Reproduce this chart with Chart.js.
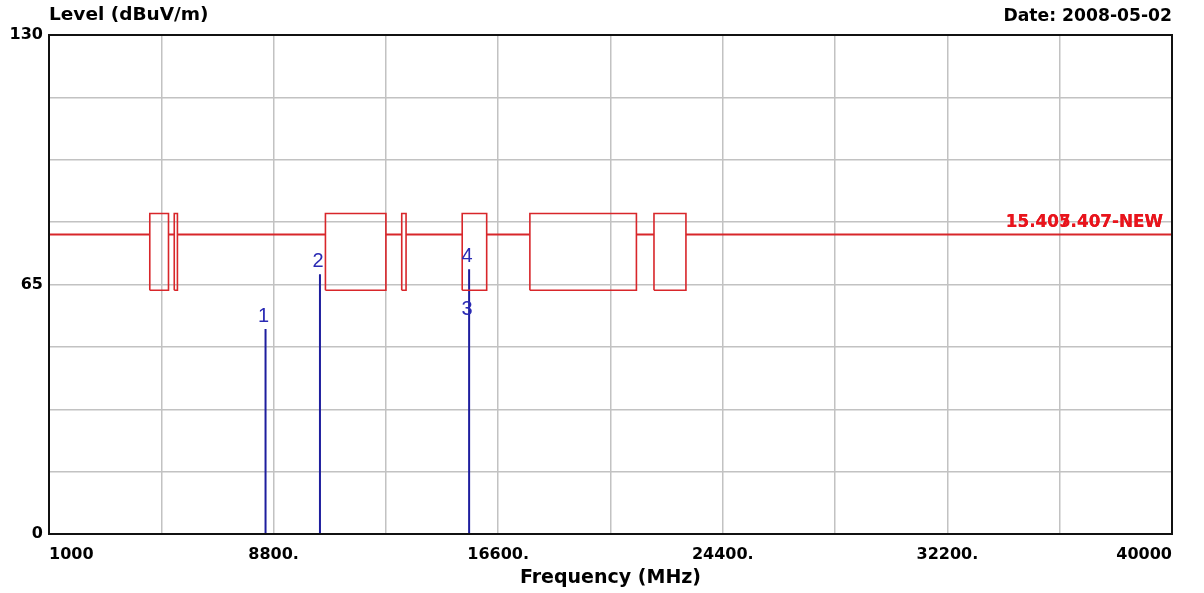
<!DOCTYPE html>
<html>
<head>
<meta charset="utf-8">
<script src="https://cdn.jsdelivr.net/npm/chart.js@4.4.1/dist/chart.umd.min.js"></script>
<style>
    html, body { margin: 0; padding: 0; background: #fff; }
    #wrap { width: 1204px; height: 593px; position: relative; }
</style>
</head>
<body>
<div id="wrap"><canvas id="levelChart"></canvas></div>
<script>
// Axis ticks (gridlines every 3900 MHz / 16.25 dB, labels on every other one)
const xTicks = [1000, 4900, 8800, 12700, 16600, 20500, 24400, 28300, 32200, 36100, 40000];
const xTickLabels = ['1000', '', '8800.', '', '16600.', '', '24400.', '', '32200.', '', '40000'];
const yTicks = [0, 16.25, 32.5, 48.75, 65, 81.25, 97.5, 113.75, 130];
const yTickLabels = ['0', '', '', '', '65', '', '', '', '130'];

// Limit line and restricted bands (MHz)
const limitLevel = 78;
const bandTop = 83.5;
const bandBottom = 63.5;
const bandStart = [4500, 5350, 10600, 13250, 15350, 17700, 22010];
const bandEnd = [5150, 5460, 12700, 13400, 16200, 21400, 23120];
const limitLabels = ['15.407.407-NEW', '15.405.407-NEW'];

// Measured markers
const markerFreq = [8520, 10410, 15590, 15590];
const markerLevel = [53.4, 67.7, 55.2, 69.0];
const markerNames = ['1', '2', '3', '4'];

const RED = '#d8262a';
const BLUE = '#1e1e9e';

// build limit segments between bands
const limitPts = [];
let from = xTicks[0];
bandStart.forEach((s, i) => {
    limitPts.push({ x: from, y: limitLevel }, { x: s, y: limitLevel }, { x: s, y: null });
    from = bandEnd[i];
});
limitPts.push({ x: from, y: limitLevel }, { x: xTicks[xTicks.length - 1], y: limitLevel });

// band rectangles
const bandPts = [];
bandStart.forEach((s, i) => {
    const e = bandEnd[i];
    bandPts.push(
        { x: s, y: bandBottom }, { x: s, y: bandTop }, { x: e, y: bandTop },
        { x: e, y: bandBottom }, { x: s, y: bandBottom }, { x: e, y: null }
    );
});

// marker sticks
const markerPts = [];
markerFreq.forEach((f, i) => {
    markerPts.push({ x: f, y: 0 }, { x: f, y: markerLevel[i] }, { x: f, y: null });
});

const overlay = {
    id: 'overlay',
    afterDatasetsDraw(chart) {
        const { ctx, chartArea: a, scales: { x, y } } = chart;
        ctx.save();
        // frame
        ctx.strokeStyle = '#111';
        ctx.lineWidth = 2;
        ctx.strokeRect(a.left, a.top, a.right - a.left, a.bottom - a.top);

        // header texts
        ctx.fillStyle = '#000';
        ctx.textBaseline = 'alphabetic';
        ctx.font = 'bold 18.5px "DejaVu Sans"';
        ctx.textAlign = 'left';
        ctx.fillText('Level (dBuV/m)', a.left, 20);
        ctx.font = 'bold 17.2px "DejaVu Sans"';
        ctx.textAlign = 'right';
        ctx.fillText('Date: 2008-05-02', a.right, 21);

        // limit label (two names printed on top of each other)
        ctx.fillStyle = '#e8141c';
        ctx.font = 'bold 16.8px "DejaVu Sans"';
        ctx.textAlign = 'right';
        limitLabels.forEach(t => ctx.fillText(t, a.right - 9, y.getPixelForValue(limitLevel) - 8));

        // marker numbers
        ctx.fillStyle = '#2a2ab4';
        ctx.font = '20px "Liberation Sans"';
        ctx.textAlign = 'center';
        markerFreq.forEach((f, i) => {
            ctx.fillText(markerNames[i], x.getPixelForValue(f) - 2, y.getPixelForValue(markerLevel[i]) - 7);
        });
        ctx.restore();
    }
};

new Chart(document.getElementById('levelChart'), {
    type: 'line',
    plugins: [overlay],
    data: {
        datasets: [
            { data: limitPts, borderColor: RED, borderWidth: 2 },
            { data: bandPts, borderColor: RED, borderWidth: 1.6 },
            { data: markerPts, borderColor: BLUE, borderWidth: 2 }
        ]
    },
    options: {
        responsive: true,
        maintainAspectRatio: false,
        animation: false,
        spanGaps: false,
        elements: { point: { radius: 0 }, line: { tension: 0 } },
        layout: { padding: { top: 35, right: 32, left: 0, bottom: 0 } },
        plugins: { legend: { display: false }, tooltip: { enabled: false } },
        scales: {
            x: {
                type: 'linear',
                min: xTicks[0],
                max: xTicks[xTicks.length - 1],
                afterBuildTicks: s => { s.ticks = xTicks.map(v => ({ value: v })); },
                afterFit: s => { s.height = 59; },
                grid: { color: '#c2c2c2', lineWidth: 1.5, drawTicks: false },
                border: { display: false },
                ticks: {
                    align: 'inner',
                    maxRotation: 0,
                    autoSkip: false,
                    padding: 11,
                    color: '#000',
                    font: { family: 'DejaVu Sans', size: 16, weight: 'bold' },
                    callback: (v, i) => xTickLabels[i]
                },
                title: {
                    display: true,
                    text: 'Frequency (MHz)',
                    color: '#000',
                    padding: { top: 2 },
                    font: { family: 'DejaVu Sans', size: 19, weight: 'bold' }
                }
            },
            y: {
                min: yTicks[0],
                max: yTicks[yTicks.length - 1],
                afterBuildTicks: s => { s.ticks = yTicks.map(v => ({ value: v })); },
                afterFit: s => { s.width = 49; },
                grid: { color: '#c2c2c2', lineWidth: 1.5, drawTicks: false },
                border: { display: false },
                ticks: {
                    padding: 6,
                    color: '#000',
                    font: { family: 'DejaVu Sans', size: 16, weight: 'bold' },
                    callback: (v, i) => yTickLabels[i]
                }
            }
        }
    }
});
</script>
</body>
</html>
